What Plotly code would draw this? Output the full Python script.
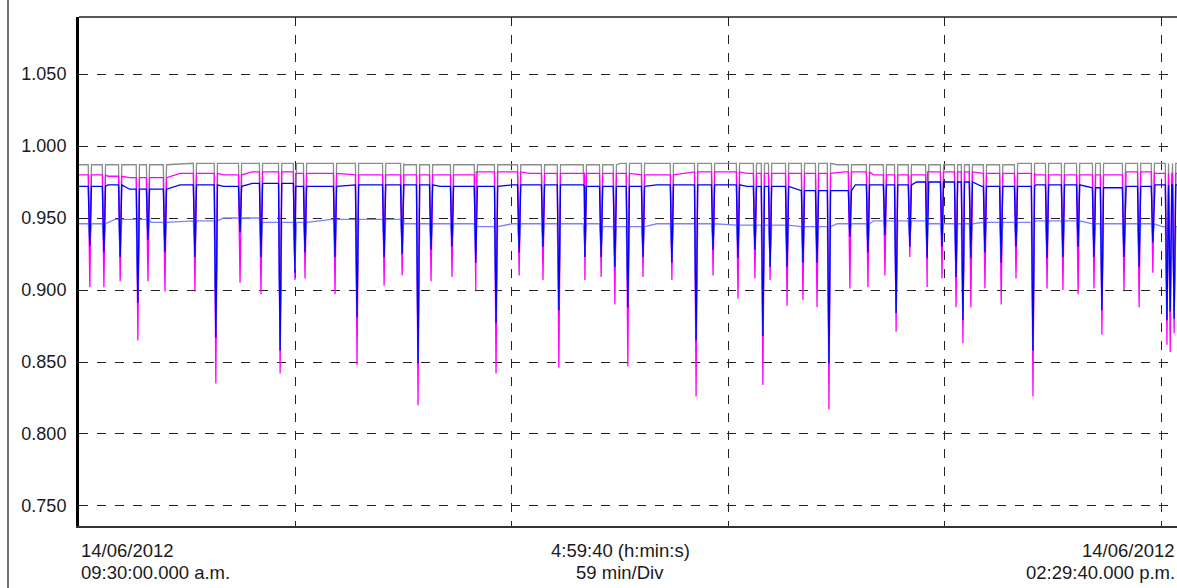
import plotly.graph_objects as go

# ---- data (minutes after 09:30:00) ----
dip_minutes = [3.0, 6.9, 11.4, 16.3, 19.1, 23.8, 32.1, 37.9, 44.6, 50.4, 55.7, 59.8, 62.6, 70.9, 77.0,
               84.5, 89.5, 93.9, 97.5, 103.3, 109.9, 115.5, 121.9, 128.5, 132.9, 140.1, 144.6, 148.4,
               152.0, 156.2, 164.2, 170.9, 175.6, 182.5, 187.2, 189.4, 191.4, 196.1, 200.5, 204.4,
               207.7, 213.5, 218.5, 223.2, 226.3, 230.1, 234.9, 239.0, 242.9, 244.8, 247.0, 250.9,
               255.4, 259.5, 264.2, 268.1, 272.5, 276.7, 281.1, 283.3, 289.4, 293.6, 297.4, 301.3,
               302.2, 303.3]

magenta_dips = [0.902, 0.902, 0.906, 0.865, 0.906, 0.899, 0.899, 0.835, 0.905, 0.897, 0.842, 0.907,
                0.908, 0.897, 0.848, 0.903, 0.910, 0.820, 0.906, 0.909, 0.900, 0.842, 0.910, 0.907,
                0.846, 0.907, 0.909, 0.890, 0.847, 0.909, 0.907, 0.826, 0.910, 0.894, 0.908, 0.834,
                0.907, 0.889, 0.893, 0.888, 0.817, 0.901, 0.902, 0.910, 0.871, 0.923, 0.902, 0.908,
                0.888, 0.863, 0.888, 0.901, 0.890, 0.908, 0.826, 0.901, 0.900, 0.897, 0.901, 0.869,
                0.900, 0.888, 0.912, 0.862, 0.857, 0.870]

blue_dips = [0.931, 0.926, 0.923, 0.891, 0.935, 0.926, 0.923, 0.867, 0.940, 0.923, 0.858, 0.912,
             0.926, 0.923, 0.881, 0.923, 0.925, 0.849, 0.928, 0.930, 0.919, 0.877, 0.926, 0.930,
             0.886, 0.923, 0.923, 0.916, 0.888, 0.923, 0.919, 0.865, 0.928, 0.922, 0.928, 0.868,
             0.916, 0.916, 0.919, 0.919, 0.849, 0.937, 0.926, 0.938, 0.884, 0.930, 0.922, 0.930,
             0.909, 0.879, 0.922, 0.926, 0.919, 0.930, 0.858, 0.922, 0.923, 0.930, 0.923, 0.886,
             0.923, 0.916, 0.933, 0.879, 0.885, 0.880]

gray_dips = [0.939, 0.934, 0.931, 0.899, 0.943, 0.934, 0.931, 0.875, 0.948, 0.931, 0.866, 0.920,
             0.934, 0.931, 0.889, 0.931, 0.933, 0.857, 0.936, 0.938, 0.927, 0.885, 0.934, 0.938,
             0.894, 0.931, 0.931, 0.924, 0.896, 0.931, 0.927, 0.873, 0.936, 0.930, 0.936, 0.876,
             0.924, 0.924, 0.927, 0.927, 0.857, 0.945, 0.934, 0.946, 0.892, 0.938, 0.930, 0.938,
             0.917, 0.887, 0.930, 0.934, 0.927, 0.938, 0.866, 0.930, 0.931, 0.938, 0.931, 0.894,
             0.931, 0.924, 0.941, 0.887, 0.893, 0.888]

lightblue_dips = [0.935, 0.930, 0.927, 0.895, 0.939, 0.930, 0.927, 0.871, 0.944, 0.927, 0.862, 0.916,
                  0.930, 0.927, 0.885, 0.927, 0.929, 0.853, 0.932, 0.934, 0.923, 0.881, 0.930, 0.934,
                  0.890, 0.927, 0.927, 0.920, 0.892, 0.927, 0.923, 0.869, 0.932, 0.926, 0.932, 0.872,
                  0.920, 0.920, 0.923, 0.923, 0.853, 0.941, 0.930, 0.942, 0.888, 0.934, 0.926, 0.934,
                  0.913, 0.883, 0.926, 0.930, 0.923, 0.934, 0.862, 0.926, 0.927, 0.934, 0.927, 0.890,
                  0.927, 0.920, 0.937, 0.883, 0.889, 0.884]

# baseline levels (minute, value), held until next entry
magenta_base = [(0, 0.980), (8, 0.979), (14, 0.978), (28, 0.981), (40, 0.980), (48, 0.982),
                (60, 0.981), (75, 0.980), (90, 0.980), (110, 0.982), (125, 0.981), (140, 0.981),
                (155, 0.980), (170, 0.982), (185, 0.981), (200, 0.981), (212, 0.982), (220, 0.980),
                (235, 0.982), (250, 0.981), (265, 0.980), (280, 0.980), (290, 0.982), (298, 0.981)]
blue_base = [(0, 0.972), (8, 0.973), (14, 0.970), (28, 0.973), (40, 0.972), (48, 0.974),
             (60, 0.972), (75, 0.973), (100, 0.972), (120, 0.973), (140, 0.972), (160, 0.973),
             (170, 0.973), (185, 0.972), (200, 0.969), (215, 0.973), (232, 0.975), (250, 0.972),
             (265, 0.973), (280, 0.971), (290, 0.972), (298, 0.973)]
gray_base = [(0, 0.987), (30, 0.988), (90, 0.987), (150, 0.988), (210, 0.987), (260, 0.988)]
lightblue_base = [(0, 0.946), (10, 0.949), (20, 0.947), (30, 0.948), (40, 0.950), (50, 0.947),
                  (70, 0.949), (90, 0.946), (110, 0.944), (120, 0.946), (130, 0.946), (145, 0.944),
                  (160, 0.946), (180, 0.945), (200, 0.944), (210, 0.946), (220, 0.948),
                  (235, 0.946), (250, 0.947), (265, 0.948), (280, 0.946), (300, 0.944)]

X_END = 304.09
DIV = 59.9333   # 59 min/Div (4:59:40 over 5 divisions)


def base_at(bp, t):
    v = bp[0][1]
    for tb, vb in bp:
        if tb <= t:
            v = vb
    return v


def build(bp, dips):
    pts = [(tb, vb) for tb, vb in bp]
    for t, v in zip(dip_minutes, dips):
        pts.append((t - 0.45, base_at(bp, t - 0.45)))
        pts.append((t, v))
        pts.append((t + 0.45, base_at(bp, t + 0.45)))
    pts.append((X_END, base_at(bp, X_END)))
    pts.sort(key=lambda p: p[0])
    return [p[0] for p in pts], [p[1] for p in pts]


series = [
    ("gray", gray_base, gray_dips, "#8c8c8c"),
    ("magenta", magenta_base, magenta_dips, "#ff00ff"),
    ("lightblue", lightblue_base, lightblue_dips, "#8080ff"),
    ("blue", blue_base, blue_dips, "#0000ff"),
]

fig = go.Figure()
for name, bp, dips, col in series:
    xs, ys = build(bp, dips)
    fig.add_trace(go.Scatter(x=xs, y=ys, mode="lines", name=name,
                             line=dict(color=col, width=1.3), hoverinfo="skip"))

font = "Liberation Sans, Arial, sans-serif"
txtcol = "#1a1a1a"

fig.update_layout(
    width=1177, height=588,
    margin=dict(l=79, r=0, t=17, b=62),
    paper_bgcolor="white", plot_bgcolor="white",
    showlegend=False,
    xaxis=dict(range=[0, X_END], tick0=0, dtick=DIV, showticklabels=False,
               showgrid=True, gridcolor="#222", griddash="dash", gridwidth=1,
               zeroline=False, showline=True, linecolor="#333", linewidth=2, ticks=""),
    yaxis=dict(range=[0.7361, 1.0896], tickvals=[0.75, 0.80, 0.85, 0.90, 0.95, 1.00, 1.05],
               tickformat=".3f", showgrid=True, gridcolor="#222", griddash="dash", gridwidth=1,
               zeroline=False, showline=True, linecolor="#000", linewidth=3, ticks="",
               ticklabelstandoff=6, tickfont=dict(family=font, size=18, color=txtcol)),
)

# top border and window frame line
fig.add_shape(type="line", xref="paper", yref="paper", x0=0, x1=1, y0=1, y1=1,
              line=dict(color="#222", width=1.5))
fig.add_shape(type="line", xref="paper", yref="paper", x0=-71 / 1098, x1=-71 / 1098,
              y0=-62 / 509, y1=1 + 17 / 509, line=dict(color="#444", width=1.5))

ann = dict(xref="paper", yref="paper", showarrow=False, yanchor="middle",
           font=dict(family=font, size=18.5, color=txtcol))
y1 = (526 - 550) / 509
y2 = (526 - 572) / 509
xc = (1161 - 79) / 2 / 1098
fig.add_annotation(x=0, y=y1, text="14/06/2012", xanchor="left", **ann)
fig.add_annotation(x=0, y=y2, text="09:30:00.000 a.m.", xanchor="left", **ann)
fig.add_annotation(x=xc, y=y1, text="4:59:40 (h:min:s)", xanchor="center", **ann)
fig.add_annotation(x=xc, y=y2, text="59 min/Div", xanchor="center", **ann)
fig.add_annotation(x=1.0, y=y1, text="14/06/2012", xanchor="right", **ann)
fig.add_annotation(x=1.0, y=y2, text="02:29:40.000 p.m.", xanchor="right", **ann)

fig.write_html("out.html")
